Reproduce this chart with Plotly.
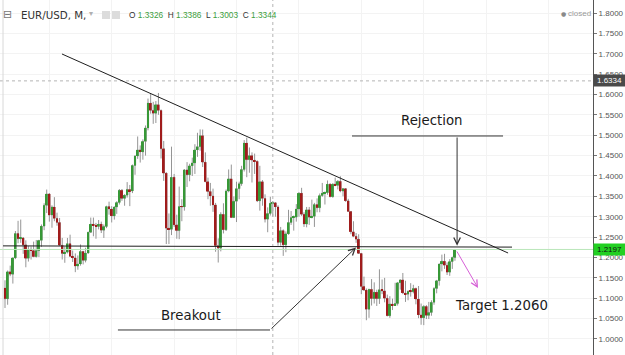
import plotly.graph_objects as go
import pandas as pd

# ---------------- data (EUR/USD monthly, Aug 2003 - Jan 2018) ----------------
months = pd.date_range("2003-08-01", "2018-01-01", freq="MS").strftime("%Y-%m-%d").tolist()

open_prices = [
    1.1250, 1.0985, 1.1650, 1.1590, 1.1990,
    1.2590, 1.2460, 1.2480, 1.2310, 1.1980, 1.2200, 1.2170, 1.2020, 1.2170, 1.2420, 1.2770, 1.3280,
    1.3560, 1.3040, 1.3240, 1.2960, 1.2860, 1.2300, 1.2100, 1.2130, 1.2340, 1.2030, 1.1990, 1.1790,
    1.1840, 1.2150, 1.1930, 1.2110, 1.2620, 1.2820, 1.2790, 1.2760, 1.2820, 1.2670, 1.2760, 1.3250,
    1.3190, 1.3020, 1.3240, 1.3350, 1.3650, 1.3450, 1.3530, 1.3670, 1.3630, 1.4260, 1.4490, 1.4640,
    1.4590, 1.4850, 1.5180, 1.5790, 1.5610, 1.5540, 1.5750, 1.5610, 1.4670, 1.4070, 1.2720, 1.2690,
    1.3970, 1.2800, 1.2660, 1.3250, 1.3240, 1.4150, 1.4030, 1.4250, 1.4320, 1.4640, 1.4720, 1.4990,
    1.4340, 1.3860, 1.3620, 1.3510, 1.3290, 1.2290, 1.2230, 1.3060, 1.2680, 1.3630, 1.3930, 1.2980,
    1.3380, 1.3690, 1.3810, 1.4160, 1.4810, 1.4400, 1.4500, 1.4390, 1.4360, 1.3390, 1.3860, 1.3450,
    1.2940, 1.3080, 1.3326, 1.3344, 1.3240, 1.2370, 1.2660, 1.2310, 1.2580, 1.2860, 1.2980, 1.2990,
    1.3190, 1.3580, 1.3060, 1.2820, 1.3170, 1.2990, 1.3010, 1.3300, 1.3220, 1.3520, 1.3580, 1.3590,
    1.3800, 1.3490, 1.3800, 1.3770, 1.3870, 1.3630, 1.3690, 1.3390, 1.3130, 1.2630, 1.2520, 1.2450,
    1.2100, 1.1290, 1.1200, 1.0730, 1.1220, 1.0990, 1.1150, 1.0990, 1.1210, 1.1180, 1.1000, 1.0570,
    1.0860, 1.0830, 1.0870, 1.1380, 1.1450, 1.1130, 1.1100, 1.1170, 1.1160, 1.1240, 1.0980, 1.0590,
    1.0520, 1.0800, 1.0580, 1.0650, 1.0900, 1.1240, 1.1430, 1.1840, 1.1910, 1.1810, 1.1640, 1.1900,
    1.2000,
]
high_prices = [
    1.1440, 1.1680, 1.1800, 1.2000, 1.2650,
    1.2900, 1.2930, 1.2500, 1.2420, 1.2280, 1.2270, 1.2390, 1.2430, 1.2430, 1.2810, 1.3330, 1.3667,
    1.3580, 1.3280, 1.3480, 1.3100, 1.2970, 1.2480, 1.2270, 1.2480, 1.2560, 1.2170, 1.2100, 1.2050,
    1.2320, 1.2160, 1.2240, 1.2630, 1.2980, 1.2980, 1.2850, 1.2920, 1.2880, 1.2810, 1.3270, 1.3370,
    1.3260, 1.3250, 1.3380, 1.3680, 1.3680, 1.3550, 1.3850, 1.3780, 1.4280, 1.4510, 1.4970, 1.4750,
    1.4900, 1.5240, 1.5900, 1.6020, 1.5820, 1.5840, 1.6038, 1.5630, 1.4860, 1.4090, 1.3080, 1.4720,
    1.4050, 1.3050, 1.3740, 1.3430, 1.4170, 1.4340, 1.4300, 1.4450, 1.4780, 1.5060, 1.5144, 1.5140,
    1.4580, 1.3960, 1.3830, 1.3690, 1.3340, 1.2470, 1.3110, 1.3330, 1.3670, 1.4160, 1.4280, 1.3500,
    1.3860, 1.3860, 1.4250, 1.4880, 1.4940, 1.4700, 1.4580, 1.4550, 1.4380, 1.4250, 1.3900, 1.3550,
    1.3230, 1.3490, 1.3386, 1.3350, 1.3280, 1.2750, 1.2690, 1.2640, 1.3170, 1.3140, 1.3030, 1.3310,
    1.3600, 1.3710, 1.3110, 1.3240, 1.3240, 1.3420, 1.3340, 1.3450, 1.3570, 1.3830, 1.3620, 1.3890,
    1.3820, 1.3820, 1.3960, 1.3900, 1.3993, 1.3700, 1.3700, 1.3440, 1.3140, 1.2890, 1.2600, 1.2570,
    1.2110, 1.1530, 1.1240, 1.1230, 1.1470, 1.1390, 1.1210, 1.1710, 1.1460, 1.1500, 1.1090, 1.1050,
    1.0990, 1.1380, 1.1400, 1.1460, 1.1620, 1.1430, 1.1190, 1.1370, 1.1330, 1.1260, 1.1300, 1.0870,
    1.0830, 1.0830, 1.0910, 1.0950, 1.1270, 1.1450, 1.1850, 1.2070, 1.2090, 1.1880, 1.1960, 1.2020,
    1.2200,
]
low_prices = [
    1.0760, 1.0840, 1.1540, 1.1360, 1.1960,
    1.2350, 1.2360, 1.2090, 1.1760, 1.1900, 1.1950, 1.2010, 1.2000, 1.2010, 1.2260, 1.2670, 1.3090,
    1.2880, 1.2730, 1.2890, 1.2780, 1.2290, 1.1950, 1.1870, 1.2100, 1.2010, 1.1890, 1.1640, 1.1700,
    1.1800, 1.1830, 1.1880, 1.2090, 1.2600, 1.2520, 1.2460, 1.2690, 1.2600, 1.2480, 1.2720, 1.3050,
    1.2860, 1.2930, 1.3070, 1.3300, 1.3390, 1.3270, 1.3470, 1.3260, 1.3580, 1.4030, 1.4420, 1.4330,
    1.4400, 1.4500, 1.5120, 1.5530, 1.5280, 1.5300, 1.5500, 1.4430, 1.3880, 1.2330, 1.2330, 1.2550,
    1.2750, 1.2460, 1.2450, 1.2890, 1.3150, 1.3730, 1.3870, 1.4000, 1.4050, 1.4470, 1.4620, 1.4220,
    1.3850, 1.3430, 1.3270, 1.3120, 1.2140, 1.1876, 1.2150, 1.2590, 1.2650, 1.3600, 1.2970, 1.2970,
    1.2870, 1.3430, 1.3760, 1.4110, 1.3970, 1.4080, 1.3840, 1.4050, 1.3360, 1.3150, 1.3270, 1.2860,
    1.2620, 1.3030, 1.3003, 1.3000, 1.2290, 1.2290, 1.2040, 1.2130, 1.2560, 1.2800, 1.2660, 1.2880,
    1.3000, 1.3020, 1.2750, 1.2740, 1.2800, 1.2960, 1.2750, 1.3110, 1.3110, 1.3490, 1.3300, 1.3540,
    1.3480, 1.3470, 1.3750, 1.3670, 1.3600, 1.3500, 1.3370, 1.3120, 1.2570, 1.2500, 1.2360, 1.2090,
    1.1100, 1.1180, 1.0460, 1.0520, 1.0820, 1.0870, 1.0810, 1.0860, 1.1100, 1.0900, 1.0560, 1.0520,
    1.0710, 1.0810, 1.0820, 1.1210, 1.1100, 1.0910, 1.0950, 1.1040, 1.1120, 1.0850, 1.0510, 1.0350,
    1.0340, 1.0490, 1.0490, 1.0570, 1.0840, 1.1120, 1.1310, 1.1660, 1.1720, 1.1570, 1.1550, 1.1720,
    1.1920,
]
close_prices = [
    1.0985, 1.1650, 1.1590, 1.1990, 1.2590,
    1.2460, 1.2480, 1.2310, 1.1980, 1.2200, 1.2170, 1.2020, 1.2170, 1.2420, 1.2770, 1.3280, 1.3560,
    1.3040, 1.3240, 1.2960, 1.2860, 1.2300, 1.2100, 1.2130, 1.2340, 1.2030, 1.1990, 1.1790, 1.1840,
    1.2150, 1.1930, 1.2110, 1.2620, 1.2820, 1.2790, 1.2760, 1.2820, 1.2670, 1.2760, 1.3250, 1.3190,
    1.3020, 1.3240, 1.3350, 1.3650, 1.3450, 1.3530, 1.3670, 1.3630, 1.4260, 1.4490, 1.4640, 1.4590,
    1.4850, 1.5180, 1.5790, 1.5610, 1.5540, 1.5750, 1.5610, 1.4670, 1.4070, 1.2720, 1.2690, 1.3970,
    1.2800, 1.2660, 1.3250, 1.3240, 1.4150, 1.4030, 1.4250, 1.4320, 1.4640, 1.4720, 1.4990, 1.4340,
    1.3860, 1.3620, 1.3510, 1.3290, 1.2290, 1.2230, 1.3060, 1.2680, 1.3630, 1.3930, 1.2980, 1.3380,
    1.3690, 1.3810, 1.4160, 1.4810, 1.4400, 1.4500, 1.4390, 1.4360, 1.3390, 1.3860, 1.3450, 1.2940,
    1.3080, 1.3330, 1.3344, 1.3240, 1.2370, 1.2660, 1.2310, 1.2580, 1.2860, 1.2980, 1.2990, 1.3190,
    1.3580, 1.3060, 1.2820, 1.3170, 1.2990, 1.3010, 1.3300, 1.3220, 1.3520, 1.3580, 1.3590, 1.3800,
    1.3490, 1.3800, 1.3770, 1.3870, 1.3630, 1.3690, 1.3390, 1.3130, 1.2630, 1.2520, 1.2450, 1.2100,
    1.1290, 1.1200, 1.0730, 1.1220, 1.0990, 1.1150, 1.0990, 1.1210, 1.1180, 1.1000, 1.0570, 1.0860,
    1.0830, 1.0870, 1.1380, 1.1450, 1.1130, 1.1100, 1.1170, 1.1160, 1.1240, 1.0980, 1.0590, 1.0520,
    1.0800, 1.0580, 1.0650, 1.0900, 1.1240, 1.1430, 1.1840, 1.1910, 1.1810, 1.1640, 1.1900, 1.2000,
    1.2197,
]

header_symbol = "EUR/USD, M,"
header_ohlc = {"O": "1.3326", "H": "1.3386", "L": "1.3003", "C": "1.3344"}
last_price = 1.2197
cursor_price = 1.6334
cursor_date = "2012-03-01"

# drawings (date, price)
trend_line = (("2005-05-29", 1.6994), ("2019-09-15", 1.2110))
support_line = (("2003-07-09", 1.2285), ("2019-10-31", 1.2255))
rejection_line = (("2014-09-14", 1.4982), ("2019-07-18", 1.4982))
rejection_arrow = (("2018-01-26", 1.4982), ("2018-01-26", 1.2290))
target_arrow = (("2018-01-14", 1.2184), ("2018-09-28", 1.1252))
breakout_line = (("2007-03-15", 1.0221), ("2012-01-28", 1.0221))
breakout_arrow = (("2012-01-28", 1.0221), ("2014-10-31", 1.2245))

assert len(months) == len(open_prices) == len(high_prices) == len(low_prices) == len(close_prices)

UP = "#379837"
DOWN = "#a01c1c"
WICK = "#959595"

X_RANGE = ["2003-06-03 12:00", "2022-06-05"]
Y_RANGE = [0.9607, 1.8319]

fig = go.Figure()
# wicks (gray) from the candlestick trace on the base axes
fig.add_trace(go.Candlestick(
    x=months, open=open_prices, high=high_prices, low=low_prices, close=close_prices,
    increasing=dict(line=dict(color=WICK, width=1), fillcolor=WICK),
    decreasing=dict(line=dict(color=WICK, width=1), fillcolor=WICK),
    showlegend=False, hoverinfo="skip",
))
# coloured bodies on an overlaid copy of the axes, so they sit above the wicks
body_base = [min(o, c) for o, c in zip(open_prices, close_prices)]
body_h = [max(abs(c - o), 0.0018) for o, c in zip(open_prices, close_prices)]
body_col = [UP if c >= o else DOWN for o, c in zip(open_prices, close_prices)]
fig.add_trace(go.Bar(
    x=months, y=body_h, base=body_base, marker=dict(color=body_col, line=dict(width=0)),
    width=23 * 86400000, showlegend=False, hoverinfo="skip", xaxis="x2", yaxis="y2",
))

shapes = []
# crosshair
shapes.append(dict(type="line", xref="x", yref="paper", x0=cursor_date, x1=cursor_date, y0=0, y1=1,
                   line=dict(color="#b4b4b4", width=1, dash="dot")))
shapes.append(dict(type="line", xref="paper", yref="y", x0=0, x1=1, y0=cursor_price, y1=cursor_price,
                   line=dict(color="#b4b4b4", width=1, dash="dot")))
# last price line
shapes.append(dict(type="line", xref="paper", yref="y", x0=0, x1=1, y0=last_price, y1=last_price,
                   line=dict(color="#b9e6b9", width=1)))
# left frame
shapes.append(dict(type="line", xref="paper", yref="paper", x0=3 / 593, x1=3 / 593, y0=0, y1=1,
                   line=dict(color="#d8d8d8", width=1)))
for (p0, p1), col in [(trend_line, "#1e1e1e"), (support_line, "#1e1e1e"),
                      (rejection_line, "#333333"), (breakout_line, "#333333")]:
    shapes.append(dict(type="line", xref="x", yref="y", x0=p0[0], y0=p0[1], x1=p1[0], y1=p1[1],
                       line=dict(color=col, width=1)))
# header icons
for x0 in (102, 112):
    shapes.append(dict(type="rect", xref="paper", yref="paper", x0=x0 / 593, x1=(x0 + 8) / 593,
                       y0=1 - 19 / 355, y1=1 - 11 / 355, fillcolor="#dcdcdc", line=dict(width=0)))

ann = []


def arrow(seg, color):
    (t0, v0), (t1, v1) = seg
    return dict(x=t1, y=v1, ax=t0, ay=v0, xref="x", yref="y", axref="x", ayref="y",
                text="", showarrow=True, arrowhead=5, arrowsize=1.3, arrowwidth=1, arrowcolor=color)


ann.append(arrow(rejection_arrow, "#333333"))
ann.append(arrow(breakout_arrow, "#333333"))
ann.append(arrow(target_arrow, "#d65fd6"))

TXT = dict(family="DejaVu Sans", size=13.3, color="#1a1a1a")


def ptxt(text, px, py, font, xanchor="center", **kw):
    d = dict(text=text, x=px / 593, y=1 - py / 355, xref="paper", yref="paper",
             xanchor=xanchor, yanchor="middle", showarrow=False, font=font)
    d.update(kw)
    return d


ann.append(ptxt("Rejection", 431, 120.5, TXT))
ann.append(ptxt("Breakout", 190.5, 315, TXT))
ann.append(ptxt("Target 1.2060", 453, 305, TXT, xanchor="left"))

# header
ann.append(ptxt("⊟", 7, 14.5, dict(family="DejaVu Sans", size=11, color="#777777")))
ann.append(ptxt(header_symbol, 19, 15, dict(family="DejaVu Sans", size=10.3, color="#333333"), xanchor="left"))
ann.append(ptxt("▾", 91, 14, dict(family="DejaVu Sans", size=8, color="#b0b0b0")))
g = "#3c9e3c"
ohlc_txt = "  ".join(f"{k} <span style='color:{g}'>{v}</span>" for k, v in header_ohlc.items())
ann.append(ptxt(ohlc_txt, 127, 15.5, dict(family="Liberation Sans", size=8.3, color="#333333"), xanchor="left"))
ann.append(ptxt("●", 563, 14, dict(family="DejaVu Sans", size=6, color="#8a8a8a")))
ann.append(ptxt("closed", 566, 14, dict(family="Liberation Sans", size=8, color="#9a9a9a"), xanchor="left"))

# price boxes on axis
for val, bg, fc in [(cursor_price, "#4a4a4a", "#ffffff"), (last_price, "#22d022", "#111111")]:
    ann.append(dict(text=f"{val:.4f}", x=1, y=val, xref="paper", yref="y", xanchor="left",
                    yanchor="middle", showarrow=False, bgcolor=bg, borderpad=1, width=29, height=9,
                    font=dict(family="Liberation Sans", size=8, color=fc)))

fig.update_layout(
    width=625, height=355, margin=dict(l=0, r=32, t=0, b=0),
    paper_bgcolor="white", plot_bgcolor="white",
    barmode="overlay", showlegend=False,
    shapes=shapes, annotations=ann,
    xaxis=dict(type="date", range=X_RANGE, showticklabels=False,
               showgrid=True, gridcolor="#f3f3f3", tick0="2005-01-01", dtick="M24",
               zeroline=False, showline=False, rangeslider=dict(visible=False), automargin=False),
    yaxis=dict(side="right", range=Y_RANGE, dtick=0.05, tick0=1.0, tickformat=".4f",
               showgrid=True, gridcolor="#f3f3f3", zeroline=False, showline=True, linecolor="#555555",
               linewidth=1, ticks="outside", ticklen=3, tickcolor="#777777",
               tickfont=dict(family="Liberation Sans", size=8, color="#555555"), automargin=False),
    xaxis2=dict(type="date", range=X_RANGE, overlaying="x", visible=False, showgrid=False,
                zeroline=False, automargin=False),
    yaxis2=dict(range=Y_RANGE, overlaying="y", visible=False, showgrid=False, zeroline=False,
                automargin=False),
)

fig.write_html("out.html", config={"displayModeBar": False})
